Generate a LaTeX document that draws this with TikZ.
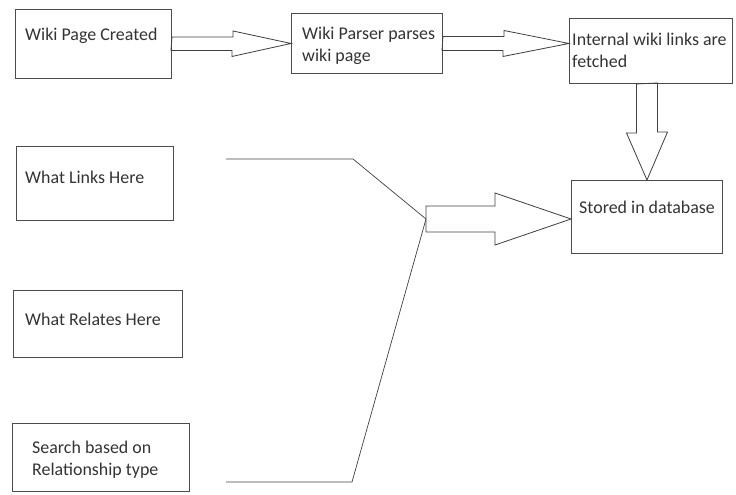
\documentclass[tikz,border=0pt]{standalone}
\usepackage{fontspec}
\setmainfont{Carlito}

\begin{document}
\begin{tikzpicture}[x=0.03cm, y=-0.03cm,
    box/.style={draw=black!70, line width=0.8pt, anchor=north west, inner sep=0pt},
    txt/.style={anchor=west, inner sep=0pt, align=left, text=black!80, font=\fontsize{15.3}{18.8}\selectfont},
    fat/.style={draw=black!75, line width=0.7pt, line join=miter},
    wire/.style={draw=black!75, line width=0.6pt}]
    \useasboundingbox (0,0) rectangle (736,494);

    \node[box, minimum width=4.68cm, minimum height=2.07cm] (page) at (15,9) {};
    \node[txt] (page-t) at (25,36) {Wiki Page Created};

    \node[box, minimum width=4.53cm, minimum height=1.80cm] (parser) at (291,13) {};
    \node[txt] (parser-t) at (302,46) {Wiki Parser parses\\wiki page};

    \node[box, minimum width=4.89cm, minimum height=1.95cm] (links) at (569,18) {};
    \node[txt] (links-t) at (572,50) {Internal wiki links are\\fetched};

    \node[box, minimum width=4.53cm, minimum height=2.19cm] (store) at (571,180) {};
    \node[txt] (store-t) at (579,207) {Stored in database};

    % block arrows
    \draw[fat] (page.east) ++(0,-7) -- ++(61,0) -- ++(0,-6) -- (parser.west)
        -- ++(-59,13) -- ++(0,-6) -- ++(-61,0) -- cycle;
    \draw[fat] (parser.east) ++(0,-7) -- ++(61,0) -- ++(0,-6) -- (links.west |- parser.east)
        -- ++(-66,13) -- ++(0,-6) -- ++(-61,0) -- cycle;
    \draw[fat] (store.north |- links.south) ++(-10.5,0) -- ++(0,49) -- ++(-10,0) -- (store.north)
        -- ++(20.5,-48) -- ++(-10,0) -- ++(0,-49) -- cycle;

    \node[box, minimum width=4.71cm, minimum height=2.22cm] (whatlinks) at (16,146) {};
    \node[txt] (whatlinks-t) at (25,177) {What Links Here};

    \node[box, minimum width=5.07cm, minimum height=2.01cm] (whatrelates) at (13,290) {};
    \node[txt] (whatrelates-t) at (25,319) {What Relates Here};

    \node[box, minimum width=5.31cm, minimum height=2.04cm] (search) at (12,423) {};
    \node[txt] (search-t) at (32,460) {Search based on\\Relationship type};

    \coordinate (join) at (426,219);
    \coordinate (linkend) at (226,159);
    \coordinate (searchend) at (226,482);

    \draw[wire] (linkend) -- ++(127,0) -- (join);
    \draw[wire] (searchend) -- ++(126,0) -- (join);

    \draw[fat] (join) ++(0,-13) -- ++(69,0) -- ++(0,-13) -- (join -| store.west)
        -- ++(-76,26) -- ++(0,-13) -- ++(-69,0) -- cycle;
\end{tikzpicture}
\end{document}
